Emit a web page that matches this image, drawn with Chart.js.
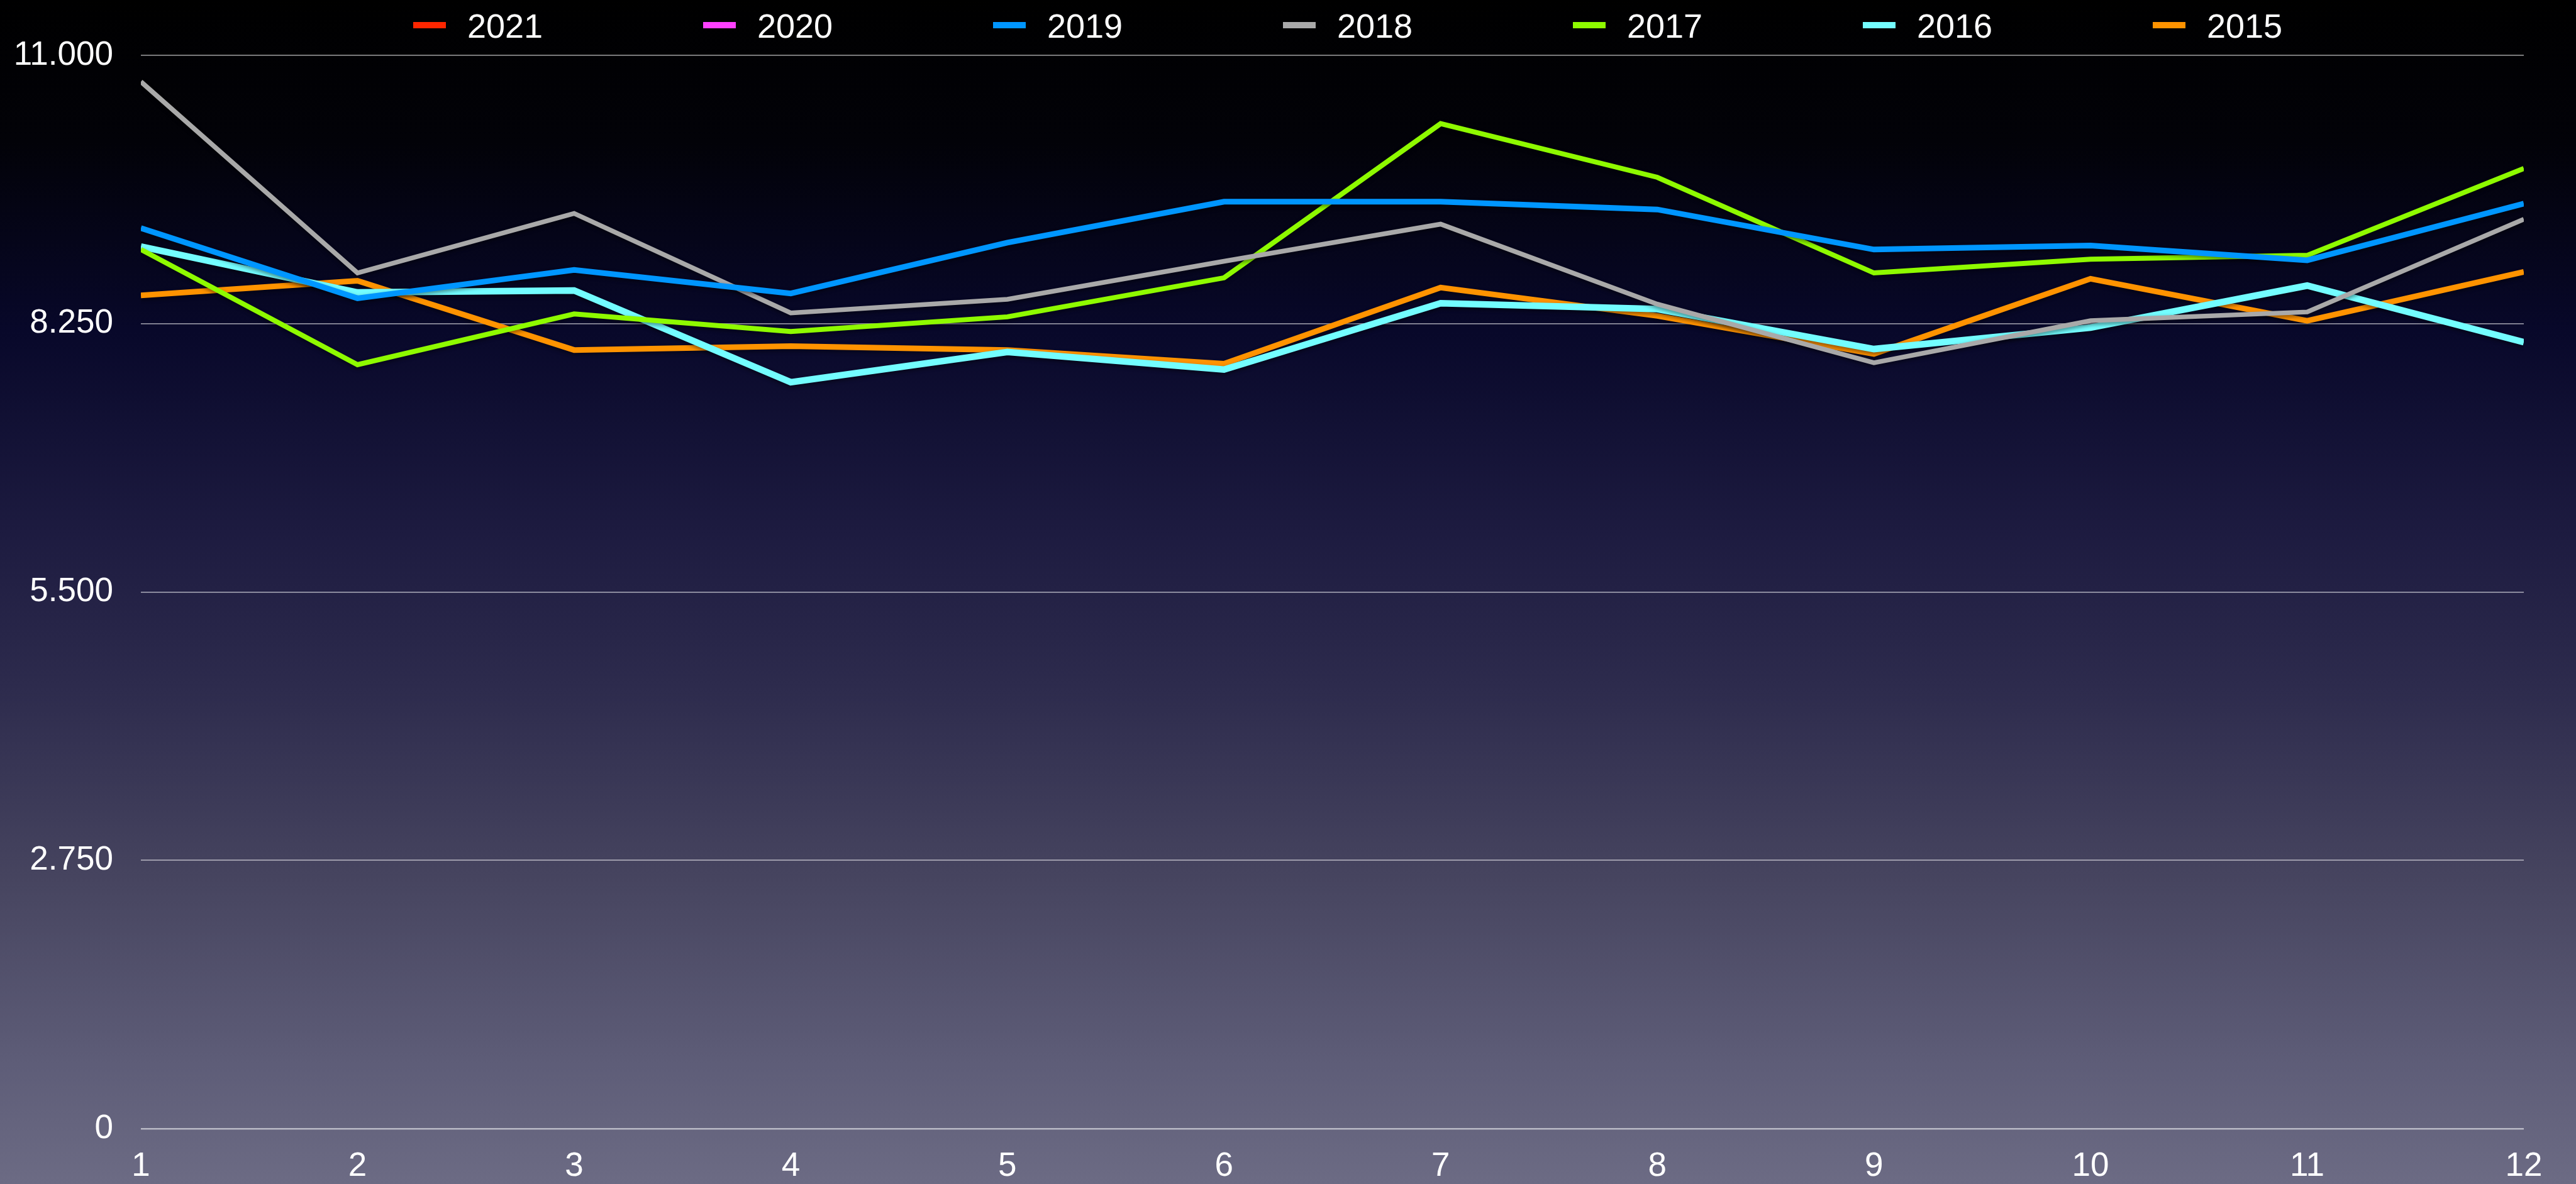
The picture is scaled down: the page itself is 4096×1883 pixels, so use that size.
<!DOCTYPE html>
<html>
<head>
<meta charset="utf-8">
<script src="https://cdn.jsdelivr.net/npm/chart.js@4/dist/chart.umd.min.js"></script>
<style>
  html, body { margin: 0; padding: 0; }
  body {
    width: 4096px; height: 1883px; overflow: hidden; position: relative;
    background: linear-gradient(to bottom,
      #000000 0%, #020208 12%, #08082a 28%, #1d1b40 45%, #2d2b4d 58%,
      #46445f 74%, #5e5d78 90%, #6c6b84 100%);
    font-family: "Liberation Sans", Helvetica, Arial, sans-serif;
  }
  #chart { position: absolute; left: 0; top: 0; }
  #legend { position: absolute; left: 0; top: 0; width: 4096px; height: 80px; }
  .sw { position: absolute; top: 35px; width: 52px; height: 10px; }
  .lt { position: absolute; top: 14px; font-size: 54px; line-height: 54px; color: #fff; white-space: nowrap; }
</style>
</head>
<body>
<div id="legend"></div>
<canvas id="chart" width="4096" height="1883"></canvas>
<script>
// ---- data ----
const months = ['1','2','3','4','5','6','7','8','9','10','11','12'];
const seriesNames = ['2021','2020','2019','2018','2017','2016','2015'];
const seriesColors = ['#ff2600','#ff40ff','#0096ff','#a9a9a9','#8efa00','#73fdff','#ff9300'];
const seriesWidths = [8, 8, 9, 7.5, 8, 10.5, 9];
const values2021 = [];
const values2020 = [];
const values2019 = [9.23, 8.51, 8.80, 8.56, 9.08, 9.50, 9.50, 9.42, 9.01, 9.05, 8.90, 9.48];
const values2018 = [10.73, 8.77, 9.38, 8.36, 8.50, 8.89, 9.27, 8.45, 7.85, 8.28, 8.37, 9.32];
const values2017 = [9.01, 7.83, 8.35, 8.17, 8.32, 8.72, 10.30, 9.75, 8.77, 8.91, 8.95, 9.84];
const values2016 = [9.04, 8.57, 8.59, 7.65, 7.96, 7.78, 8.46, 8.40, 7.99, 8.21, 8.64, 8.06];
const values2015 = [8.54, 8.69, 7.98, 8.02, 7.98, 7.84, 8.62, 8.33, 7.94, 8.71, 8.28, 8.78];
const yTickValues = [0, 2.75, 5.5, 8.25, 11];
const yTickLabels = ['0', '2.750', '5.500', '8.250', '11.000'];

const seriesValues = [values2021, values2020, values2019, values2018, values2017, values2016, values2015];

// ---- HTML legend ----
const legend = document.getElementById('legend');
seriesNames.forEach((name, i) => {
  const sw = document.createElement('div');
  sw.className = 'sw';
  sw.style.left = (657 + i * 461) + 'px';
  sw.style.background = seriesColors[i];
  legend.appendChild(sw);
  const t = document.createElement('span');
  t.className = 'lt';
  t.style.left = (743 + i * 461) + 'px';
  t.textContent = name;
  legend.appendChild(t);
});

const FONT = '"Liberation Sans", Helvetica, Arial, sans-serif';

const shadowPlugin = {
  id: 'lineShadow',
  beforeDatasetDraw(chart) {
    const ctx = chart.ctx;
    ctx.save();
    ctx.shadowColor = 'rgba(0,0,0,0.45)';
    ctx.shadowBlur = 6;
    ctx.shadowOffsetY = 3;
  },
  afterDatasetDraw(chart) {
    chart.ctx.restore();
  }
};

new Chart(document.getElementById('chart'), {
  type: 'line',
  data: {
    labels: months,
    datasets: seriesNames.map((name, i) => ({
      label: name,
      data: seriesValues[i],
      borderColor: seriesColors[i],
      backgroundColor: seriesColors[i],
      borderWidth: seriesWidths[i],
      pointRadius: 0,
      pointHoverRadius: 0,
      tension: 0,
      fill: false,
      clip: 0,
      borderJoinStyle: 'miter',
      borderCapStyle: 'butt'
    }))
  },
  plugins: [shadowPlugin],
  options: {
    responsive: false,
    animation: false,
    devicePixelRatio: 1,
    events: [],
    layout: { padding: { top: 88, right: 83, bottom: 0, left: 0 } },
    plugins: {
      legend: { display: false },
      tooltip: { enabled: false },
      title: { display: false }
    },
    scales: {
      x: {
        type: 'category',
        offset: false,
        grid: { display: false, drawTicks: false },
        border: { display: false },
        ticks: {
          color: '#ffffff',
          font: { family: FONT, size: 53 },
          padding: 29,
          maxRotation: 0,
          minRotation: 0,
          autoSkip: false
        },
        afterFit(scale) { scale.height = 88; }
      },
      y: {
        min: 0,
        max: 11,
        afterBuildTicks(scale) {
          scale.ticks = yTickValues.map(v => ({ value: v }));
        },
        grid: {
          drawTicks: false,
          color: 'rgba(255,255,255,0.55)',
          lineWidth: (c) => (c.tick && c.tick.value === 0 ? 2.6 : 1.8)
        },
        border: { display: false },
        ticks: {
          color: '#ffffff',
          font: { family: FONT, size: 53 },
          padding: 44,
          callback: (v) => yTickLabels[yTickValues.indexOf(v)]
        },
        afterFit(scale) { scale.width = 224; }
      }
    }
  }
});
</script>
</body>
</html>
